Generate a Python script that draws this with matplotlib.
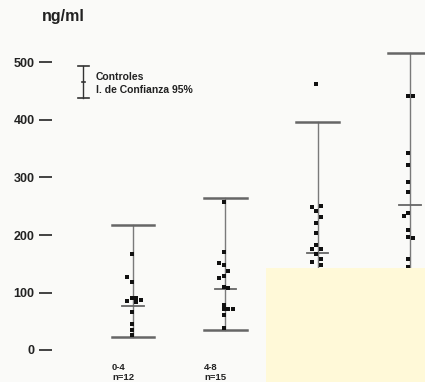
import matplotlib
matplotlib.use("Agg")
import matplotlib.pyplot as plt
from matplotlib.patches import Rectangle

# ---- data ----
groups = ["0-4", "4-8", "", ""]
n_labels = ["n=12", "n=15", "", ""]

g1_vals = [167, 127, 118, 90, 90, 83, 87, 85, 66, 45, 35, 26]
g1_dx = [0, -1, 0, 0, 1, 1, 2, -1, 0, 0, 0, 0]
g2_vals = [258, 170, 151, 148, 137, 125, 129, 110, 108, 78, 71, 71, 71, 61, 38]
g2_dx = [0, 0, -1, 0, 1, -1, 0, 0, 1, 0, 0, 1, 2, 0, 0]
g3_vals = [463, 249, 250, 242, 231, 221, 203, 183, 176, 176, 167, 153, 158, 148]
g3_dx = [0, -1, 1, 0, 1, 0, 0, 0, -1, 1, 0, -1, 1, 1]
g4_vals = [442, 442, 342, 322, 292, 275, 238, 233, 209, 197, 195, 158, 144]
g4_dx = [0, 1, 0, 0, 0, 0, 0, -1, 0, 0, 1, 0, 0]

ci_low = [23, 35, 60, 80]
ci_mid = [77, 106, 169, 252]
ci_high = [217, 265, 397, 516]

yticks = [0, 100, 200, 300, 400, 500]

# ---- figure ----
W, H = 425, 382
fig = plt.figure(figsize=(W / 100, H / 100), dpi=100)
bg = "#fafaf8"
fig.patch.set_facecolor(bg)
plt.rcParams['font.family'] = ['Liberation Sans', 'DejaVu Sans']

# pixel mapping: value 0 at y=350px, 0.575 px per unit; group 1 at x=133px, 92.3 px spacing
ppu = 0.575
y0px = 350
ymin, ymax = -55, 540
bottom = 1 - (y0px - ymin * ppu) / H
height = (ymax - ymin) * ppu / H
xpx0, xsp = 133, 92.3
left_px = 52
xmin = 1 - (xpx0 - left_px) / xsp
xmax = 1 + (W - xpx0) / xsp
ax = fig.add_axes([left_px / W, bottom, 1 - left_px / W, height])
ax.set_facecolor(bg)
ax.set_xlim(xmin, xmax)
ax.set_ylim(ymin, ymax)
for s in ax.spines.values():
    s.set_visible(False)
ax.set_xticks([])
ax.set_yticks(yticks)
ax.set_yticklabels([str(t) for t in yticks], fontsize=9, fontweight="bold", color="#222222")
ax.tick_params(axis="y", length=9.5, width=1.3, pad=3, color="#333333")

line_c = "#7a7a7a"
cap_c = "#666666"
cap_hw = 0.232
mid_hw = 0.115
dot_step = 4.5 / xsp

all_vals = [g1_vals, g2_vals, g3_vals, g4_vals]
all_dx = [g1_dx, g2_dx, g3_dx, g4_dx]
for i in range(4):
    x = i + 1
    ax.plot([x, x], [ci_low[i], ci_high[i]], color=line_c, lw=1.0, zorder=2, clip_on=False)
    ax.plot([x - cap_hw, x + cap_hw], [ci_high[i]] * 2, color=cap_c, lw=1.8, zorder=2, clip_on=False)
    ax.plot([x - cap_hw, x + cap_hw], [ci_low[i]] * 2, color=cap_c, lw=1.8, zorder=2, clip_on=False)
    ax.plot([x - mid_hw, x + mid_hw], [ci_mid[i]] * 2, color=cap_c, lw=1.3, zorder=2, clip_on=False)
    xs = [x + d * dot_step - 1.5 / xsp for d in all_dx[i]]
    ax.scatter(xs, all_vals[i], marker="s", s=10, color="#111111", zorder=3, clip_on=False, linewidths=0)
    ax.text(x - 21 / xsp, (y0px - 367) / ppu, groups[i], fontsize=6.8, fontweight="bold",
            ha="left", va="center", color="#222222")
    ax.text(x - 21 / xsp, (y0px - 378) / ppu, n_labels[i], fontsize=6.8, fontweight="bold",
            ha="left", va="center", color="#222222")

# legend
lx = (83 - xpx0) / xsp + 1
ly_top = (y0px - 66) / ppu
ly_bot = (y0px - 98) / ppu
lhw = 5.5 / xsp
ax.plot([lx, lx], [ly_bot, ly_top], color="#333333", lw=1.0, clip_on=False)
ax.plot([lx - lhw, lx + lhw], [ly_top] * 2, color="#333333", lw=1.2, clip_on=False)
ax.plot([lx - lhw, lx + lhw], [ly_bot] * 2, color="#333333", lw=1.2, clip_on=False)
ax.plot([lx - 1.5 / xsp, lx + 1.5 / xsp], [(ly_top + ly_bot) / 2] * 2, color="#333333", lw=1.2, clip_on=False)
ax.text(lx + 13 / xsp, (y0px - 77) / ppu, "Controles", fontsize=7.5, fontweight="bold", ha="left", va="center", color="#222222")
ax.text(lx + 13 / xsp, (y0px - 90) / ppu, "I. de Confianza 95%", fontsize=7.5, fontweight="bold", ha="left", va="center", color="#222222")

# unit label
fig.text(42 / W, 1 - 16 / H, "ng/ml", fontsize=11.5, fontweight="bold", ha="left", va="center", color="#222222")

# pale yellow patch over the lower right of the scan
fig.patches.append(Rectangle((266 / W, 0), 1 - 266 / W, 1 - 268 / H, transform=fig.transFigure,
                             facecolor="#fff9d8", edgecolor="none", zorder=10))

fig.savefig("out.png", dpi=100, facecolor=bg)
